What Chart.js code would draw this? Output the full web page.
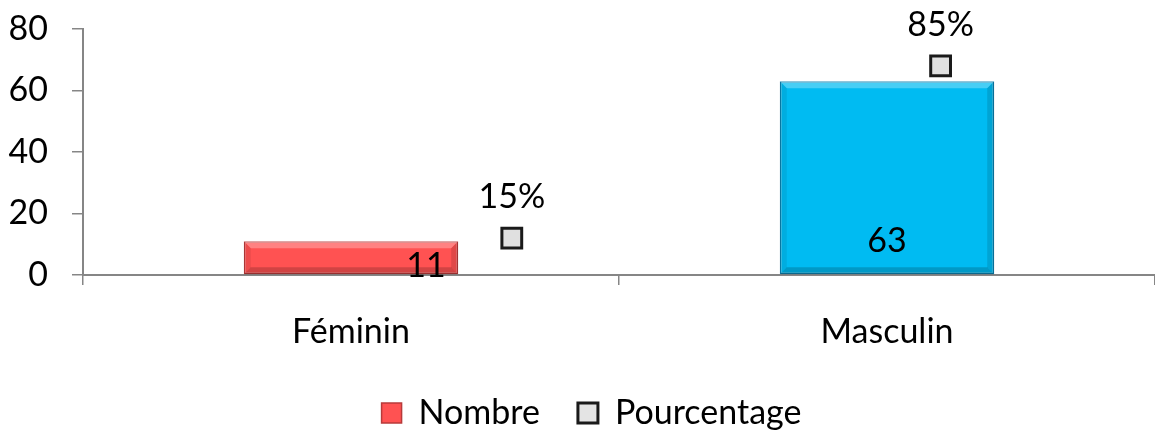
<!DOCTYPE html>
<html>
<head>
<meta charset="utf-8">
<script src="https://cdn.jsdelivr.net/npm/chart.js@4/dist/chart.umd.min.js"></script>
<style>
    html, body { margin: 0; padding: 0; background: #fff; }
    #wrap { width: 1155px; height: 432px; }
</style>
</head>
<body>
<div id="wrap"><canvas id="chart"></canvas></div>
<script>
const categories = ["Féminin", "Masculin"];
const nombre = [11, 63];
const pourcentage = [15, 85];
const pourcentageX = [1, 2];
const yTicks = [0, 20, 40, 60, 80];

document.addEventListener("DOMContentLoaded", () => {
    const ctx = document.getElementById("chart").getContext("2d");
    const font = { family: "Lato", size: 34 };
    const axisColor = "#868686";

    // bevel on the bars + value labels
    const valueLabels = {
        id: "valueLabels",
        afterLayout(chart) {
            // legend sits a bit right of centre in the original
            chart.legend.left += 14;
            chart.legend.right += 14;
        },
        afterDatasetsDraw(chart) {
            const c = chart.ctx;
            c.save();
            chart.getDatasetMeta(0).data.forEach((bar) => {
                const x0 = bar.x - bar.width / 2, x1 = bar.x + bar.width / 2;
                const t = bar.y, b = bar.base, e = 7;
                const poly = (pts, fill) => {
                    c.beginPath();
                    c.moveTo(pts[0][0], pts[0][1]);
                    pts.slice(1).forEach(p => c.lineTo(p[0], p[1]));
                    c.closePath();
                    c.fillStyle = fill;
                    c.fill();
                };
                poly([[x0, t], [x1, t], [x1 - e, t + e], [x0 + e, t + e]], "rgba(255,255,255,0.28)");
                poly([[x0, b], [x1, b], [x1 - e, b - e], [x0 + e, b - e]], "rgba(0,0,0,0.18)");
                poly([[x0, t], [x0 + e, t + e], [x0 + e, b - e], [x0, b]], "rgba(0,0,0,0.07)");
                poly([[x1, t], [x1 - e, t + e], [x1 - e, b - e], [x1, b]], "rgba(0,0,0,0.12)");
            });

            c.font = "34px Lato";
            c.fillStyle = "#000";
            c.textAlign = "center";
            c.textBaseline = "middle";
            const barOffsets = [[75, -8], [0, -33]];
            chart.getDatasetMeta(0).data.forEach((bar, i) => {
                c.fillText(String(nombre[i]), bar.x + barOffsets[i][0], bar.base + barOffsets[i][1]);
            });
            chart.getDatasetMeta(1).data.forEach((pt, i) => {
                c.fillText(pourcentage[i] + "%", pt.x, pt.y - 41);
            });
            c.restore();
        }
    };

    new Chart(ctx, {
        data: {
            labels: categories,
            datasets: [
                {
                    type: "bar",
                    label: "Nombre",
                    data: nombre,
                    backgroundColor: ["#FF5252", "#00BBF2"],
                    borderColor: ["#B83A3A", "#0A7FAE"],
                    borderWidth: 1.5,
                    borderSkipped: false,
                    grouped: false,
                    categoryPercentage: 1,
                    barPercentage: 0.4,
                    xAxisID: "x",
                    yAxisID: "y",
                    order: 2
                },
                {
                    type: "scatter",
                    label: "Pourcentage",
                    data: pourcentageX.map((x, i) => ({ x: x, y: pourcentage[i] })),
                    pointStyle: "rect",
                    pointRadius: 14,
                    pointBackgroundColor: "#e0e0e0",
                    pointBorderColor: "#1a1a1a",
                    pointBorderWidth: 3,
                    xAxisID: "x2",
                    yAxisID: "y2",
                    order: 1
                }
            ]
        },
        options: {
            responsive: true,
            maintainAspectRatio: false,
            animation: false,
            layout: { autoPadding: false, padding: { top: 29, left: 0, right: 0, bottom: -8 } },
            plugins: {
                tooltip: { enabled: false },
                legend: {
                    position: "bottom",
                    labels: {
                        font: font,
                        color: "#000",
                        boxWidth: 20,
                        boxHeight: 20,
                        padding: 38,
                        generateLabels: () => [
                            { text: "Nombre", fillStyle: "#FF5252", strokeStyle: "#B83A3A", lineWidth: 1.5, fontColor: "#000", datasetIndex: 0 },
                            { text: "Pourcentage", fillStyle: "#e4e4e4", strokeStyle: "#1a1a1a", lineWidth: 3, fontColor: "#000", datasetIndex: 1 }
                        ]
                    }
                }
            },
            scales: {
                x: {
                    type: "category",
                    offset: true,
                    afterFit: (axis) => { axis.paddingLeft = 0; axis.paddingRight = 0; axis.height = 83; },
                    grid: { display: true, offset: true, drawOnChartArea: false, drawTicks: true, tickLength: 10, color: axisColor, lineWidth: 1.5 },
                    border: { color: axisColor, width: 2 },
                    ticks: { font: font, color: "#000", padding: 27 }
                },
                x2: { type: "linear", min: 0, max: 2.5, display: false },
                y: {
                    min: 0,
                    max: 80,
                    afterBuildTicks: (axis) => { axis.ticks = yTicks.map(v => ({ value: v })); },
                    afterFit: (axis) => { axis.width = 83; axis.paddingTop = 0; axis.paddingBottom = 0; },
                    grid: { drawOnChartArea: false, drawTicks: true, tickLength: 11, color: axisColor, lineWidth: 1.5 },
                    border: { color: axisColor, width: 2 },
                    ticks: { font: font, color: "#000", padding: 24 }
                },
                y2: { type: "linear", min: 0, max: 100, display: false }
            }
        },
        plugins: [valueLabels]
    });
});
</script>
</body>
</html>
